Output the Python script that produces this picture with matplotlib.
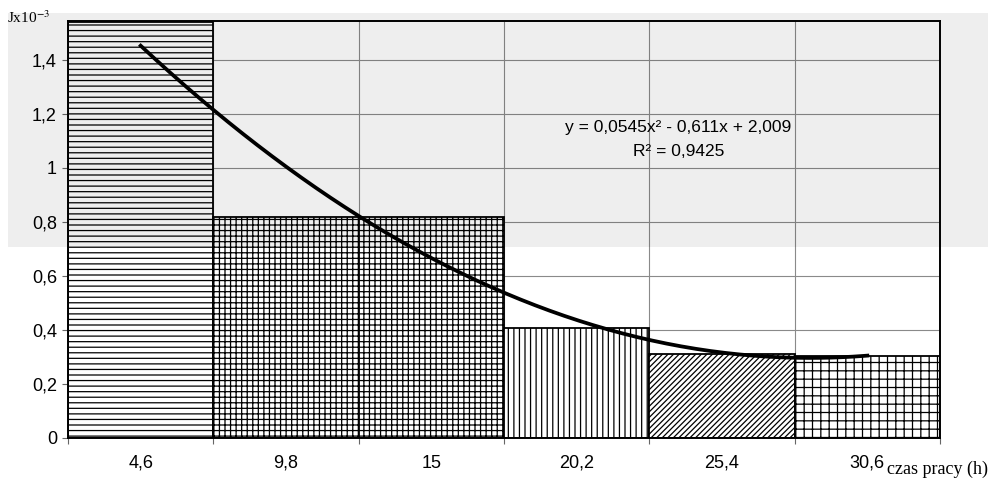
import numpy as np
import matplotlib
matplotlib.use("Agg")
import matplotlib.pyplot as plt
from matplotlib.patches import Rectangle

# data
categories = ["4,6", "9,8", "15", "20,2", "25,4", "30,6"]
values = [1.54, 0.818, 0.818, 0.407, 0.311, 0.304]
hatches = ["---", "+++", "+++", "|||", "//////", "++"]
# Excel trendline y = 0.0545x^2 - 0.611x + 2.009 (x = category number 1..6)
trend_coef = [0.0545, -0.611, 2.009]
eq_text = "y = 0,0545x² - 0,611x + 2,009"
r2_text = "R² = 0,9425"

plt.rcParams["hatch.linewidth"] = 0.9
plt.rcParams["font.family"] = "Liberation Sans"

fig = plt.figure(figsize=(9.94, 4.84), dpi=100)
ax = fig.add_axes([68 / 994, 1 - 438 / 484, 872 / 994, 417 / 484])

pos = np.arange(len(categories))
ax.bar(pos, values, width=1.0, color="white", edgecolor="black",
       linewidth=1.3, hatch=hatches, zorder=2)

xs = np.linspace(0, len(categories) - 1, 200)
ax.plot(xs, np.polyval(trend_coef, xs + 1), color="black", lw=2.7, zorder=3)

ax.set_xlim(-0.5, len(categories) - 0.5)
ax.set_ylim(0, 1.544)

# gridlines at 0.2 steps and category boundaries
ax.set_yticks(np.arange(0, 1.41, 0.2))
ax.set_yticklabels(["0", "0,2", "0,4", "0,6", "0,8", "1", "1,2", "1,4"])
ax.set_xticks(np.arange(-0.5, len(categories), 1.0))
ax.set_xticklabels([])
ax.set_xticks(pos, minor=True)
ax.set_xticklabels(categories, minor=True)
ax.tick_params(axis="x", which="minor", length=0, pad=12, labelsize=13)
ax.tick_params(axis="x", which="major", length=4, width=0.8, color="#666666")
ax.tick_params(axis="y", length=4, width=0.8, color="#666666", pad=4, labelsize=13)
ax.grid(True, which="major", color="#8a8a8a", lw=0.8)
ax.set_axisbelow(True)
for s in ax.spines.values():
    s.set_linewidth(1.4)
    s.set_color("black")

ax.text(3.70, 1.148, eq_text, ha="center", va="center", fontsize=12.5, zorder=4)
ax.text(3.70, 1.059, r2_text, ha="center", va="center", fontsize=12.5, zorder=4)

fig.text(7 / 994, 1 - 23 / 484, r"Jx10$^{-3}$", family="Liberation Serif",
         math_fontfamily="stix", fontsize=11, va="baseline")
fig.text(887 / 994, 1 - 474 / 484, "czas pracy (h)", family="Liberation Serif",
         fontsize=13, va="baseline")

# grey band left by the scan over the upper part of the page
band = Rectangle((8 / 994, 1 - 247 / 484), 980 / 994, 234 / 484,
                 transform=fig.transFigure, facecolor="black", alpha=0.065,
                 edgecolor="none", zorder=10)
fig.patches.append(band)

fig.savefig("out.png", dpi=100)
